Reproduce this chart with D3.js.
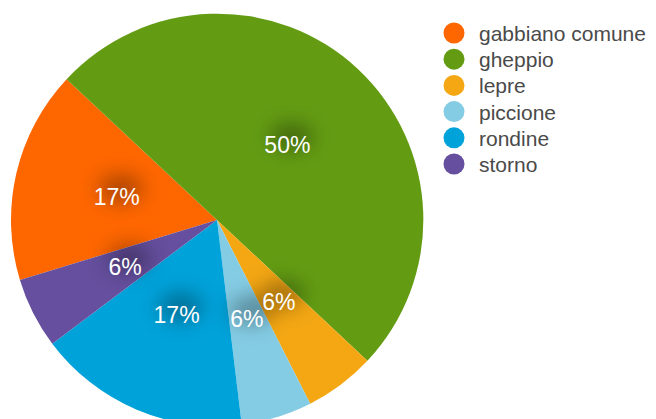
<!DOCTYPE html>
<html>
<head>
<meta charset="utf-8">
<script src="https://cdn.jsdelivr.net/npm/d3@7"></script>
<style>
  body { margin: 0; background: #fff; }
  svg { display: block; font-family: "Liberation Sans", Arial, sans-serif; }
</style>
</head>
<body>
<svg id="chart"></svg>
<script>
// dati
var categories = ["gabbiano comune", "gheppio", "lepre", "piccione", "rondine", "storno"];
var counts = [3, 9, 1, 1, 3, 1];
var colors = ["#fe6600", "#639c13", "#f4a713", "#84cce4", "#00a2da", "#654f9e"];

var width = 656, height = 419;
var cx = 217, cy = 220, radius = 206;
var startDeg = 253.1;

var svg = d3.select("#chart").attr("width", width).attr("height", height);

var defs = svg.append("defs");
defs.append("filter").attr("id", "glow")
    .attr("x", "-100%").attr("y", "-100%").attr("width", "300%").attr("height", "300%")
    .append("feGaussianBlur").attr("stdDeviation", 10);

var data = categories.map(function(c, i){ return {name: c, value: counts[i], color: colors[i]}; });
var total = d3.sum(counts);

var pie = d3.pie()
    .sort(null)
    .value(function(d){ return d.value; })
    .startAngle(startDeg * Math.PI / 180)
    .endAngle(startDeg * Math.PI / 180 + 2 * Math.PI);

var arc = d3.arc().innerRadius(0).outerRadius(radius);
var labelArc = d3.arc().innerRadius(radius * 0.5).outerRadius(radius * 0.5);

var g = svg.append("g").attr("transform", `translate(${cx}, ${cy})`);
var arcs = pie(data);

g.selectAll("path.slice")
    .data(arcs)
    .enter()
    .append("path")
    .attr("class", "slice")
    .attr("d", arc)
    .attr("fill", function(d){ return d.data.color; });

var fmt = function(d){ return Math.round(d.data.value / total * 100) + "%"; };

// ombra scura dietro le etichette
g.selectAll("ellipse.shadow")
    .data(arcs)
    .enter()
    .append("ellipse")
    .attr("class", "shadow")
    .attr("cx", function(d){ return labelArc.centroid(d)[0] + 4; })
    .attr("cy", function(d){ return labelArc.centroid(d)[1] - 8; })
    .attr("rx", 22)
    .attr("ry", 14)
    .style("fill", "#000")
    .style("fill-opacity", 0.32)
    .attr("filter", "url(#glow)");

g.selectAll("text.label")
    .data(arcs)
    .enter()
    .append("text")
    .attr("class", "label")
    .attr("transform", function(d){ var p = labelArc.centroid(d); return `translate(${p[0]}, ${p[1]})`; })
    .attr("text-anchor", "middle")
    .attr("dy", "0.35em")
    .style("font-size", "23px")
    .style("fill", "#fff")
    .text(fmt);

// legenda
var legend = svg.append("g").attr("transform", "translate(454, 33)");
var rows = legend.selectAll("g.row")
    .data(data)
    .enter()
    .append("g")
    .attr("class", "row")
    .attr("transform", function(d, i){ return `translate(0, ${i * 26.2})`; });

rows.append("circle")
    .attr("r", 10.5)
    .attr("fill", function(d){ return d.color; });

rows.append("text")
    .attr("x", 25)
    .attr("y", 8)
    .style("font-size", "21px")
    .style("fill", "#4a4a4a")
    .text(function(d){ return d.name; });
</script>
</body>
</html>
